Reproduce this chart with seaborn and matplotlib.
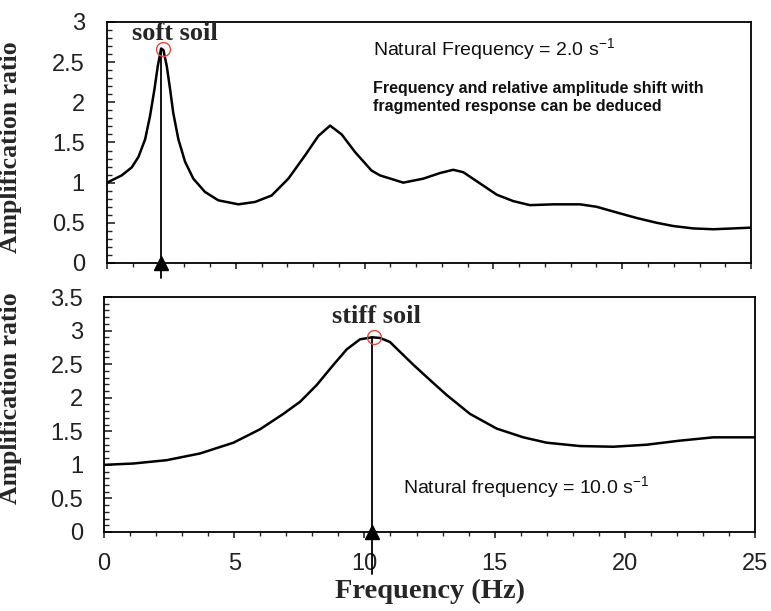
import matplotlib
matplotlib.use("Agg")
import matplotlib.pyplot as plt
from matplotlib.ticker import MultipleLocator
import seaborn as sns
import pandas as pd

# Amplification spectrum of the soft soil profile (Hz, ratio)
soft_freq = [0.0, 0.57, 0.96, 1.22, 1.48, 1.67, 1.84, 1.97, 2.10, 2.19,
             2.32, 2.45, 2.57, 2.77, 3.03, 3.35, 3.80, 4.32, 5.1, 5.75,
             6.39, 7.04, 7.69, 8.2, 8.66, 9.11, 9.63, 10.27, 10.6, 11.5,
             12.28, 12.93, 13.44, 13.83, 14.48, 15.13, 15.77, 16.42, 17.33,
             18.36, 19.0, 19.66, 20.56, 21.34, 21.98, 22.76, 23.54, 24.31,
             25.0]
soft_amp = [1.0, 1.09, 1.19, 1.32, 1.54, 1.83, 2.16, 2.45, 2.67, 2.65,
            2.45, 2.16, 1.87, 1.54, 1.26, 1.05, 0.885, 0.78, 0.73, 0.76,
            0.84, 1.05, 1.34, 1.58, 1.71, 1.60, 1.38, 1.15, 1.09, 1.0,
            1.05, 1.12, 1.16, 1.13, 0.99, 0.85, 0.77, 0.72, 0.73,
            0.73, 0.70, 0.64, 0.56, 0.50, 0.46, 0.43, 0.42, 0.43,
            0.44]

# Amplification spectrum of the stiff soil profile (Hz, ratio)
stiff_freq = [0.0, 1.13, 2.41, 3.69, 4.97, 5.99, 6.89, 7.53, 8.17, 8.81, 9.32,
              9.83, 10.3, 10.6, 10.98, 11.88, 12.5, 13.16, 14.05, 15.08, 16.1,
              17.0, 18.28, 19.56, 20.84, 22.1, 23.4, 25.0]
stiff_amp = [1.0, 1.02, 1.07, 1.17, 1.33, 1.53, 1.76, 1.94, 2.19, 2.49, 2.72,
             2.87, 2.90, 2.89, 2.83, 2.49, 2.27, 2.04, 1.76, 1.54, 1.41,
             1.33, 1.28, 1.27, 1.30, 1.36, 1.41, 1.41]

x_ticks = [0, 5, 10, 15, 20, 25]
soft_y_ticks = [0, 0.5, 1, 1.5, 2, 2.5, 3]
stiff_y_ticks = [0, 0.5, 1, 1.5, 2, 2.5, 3, 3.5]

soft_df = pd.DataFrame({"freq": soft_freq, "amp": soft_amp})
stiff_df = pd.DataFrame({"freq": stiff_freq, "amp": stiff_amp})

sns.set_style("ticks")
plt.rcParams["font.family"] = ["Liberation Sans", "DejaVu Sans"]
plt.rcParams["mathtext.fontset"] = "custom"
plt.rcParams["mathtext.rm"] = "Liberation Sans"
plt.rcParams["mathtext.it"] = "Liberation Sans:italic"
plt.rcParams["mathtext.bf"] = "Liberation Sans:bold"

fig = plt.figure(figsize=(7.71, 6.11), dpi=100)
ax1 = fig.add_axes([0.1388, 0.5696, 0.8353, 0.3944])
ax2 = fig.add_axes([0.1349, 0.1293, 0.8444, 0.3846])

serif = ["Liberation Serif", "DejaVu Serif"]
tick_color = "#222222"


def style_axis(ax, yticks, ymax, ypad, show_xlabels):
    ax.set_xlim(0, 25)
    ax.set_ylim(0, ymax)
    ax.set_xticks(x_ticks)
    ax.set_yticks(yticks)
    ax.set_yticklabels([f"{t:g}" for t in yticks])
    ax.xaxis.set_minor_locator(MultipleLocator(1))
    ax.yaxis.set_minor_locator(MultipleLocator(0.1))
    for side in ["top", "right", "bottom", "left"]:
        ax.spines[side].set_visible(True)
        ax.spines[side].set_color("black")
        ax.spines[side].set_linewidth(1.3)
    ax.tick_params(axis="y", which="major", direction="in", length=5.5,
                   width=1.2, pad=ypad, labelsize=17, labelcolor=tick_color,
                   left=True, right=False)
    ax.tick_params(axis="y", which="minor", direction="in", length=3.5,
                   width=1.0, left=True, right=False)
    ax.tick_params(axis="x", which="major", direction="out", length=4,
                   width=1.2, pad=11, labelsize=17, labelcolor=tick_color,
                   bottom=True, top=False, labelbottom=show_xlabels)
    ax.tick_params(axis="x", which="minor", direction="out", length=3,
                   width=1.0, bottom=True, top=False)
    ax.grid(False)


def mark_peak(ax, df, y_low):
    peak = df.loc[df["amp"].idxmax()]
    f, a = peak["freq"], peak["amp"]
    ax.plot([f, f], [y_low, a], color="black", lw=1.3, clip_on=False,
            zorder=3)
    ax.plot([f], [0], marker="^", color="black", markersize=10,
            clip_on=False, zorder=4)
    ax.plot([f + 0.07], [a], marker="o", markersize=10, markerfacecolor="none",
            markeredgecolor="#e8473f", markeredgewidth=1.0, clip_on=False,
            zorder=5)


# Upper panel: soft soil
sns.lineplot(data=soft_df, x="freq", y="amp", ax=ax1, color="black",
             linewidth=1.8, sort=True)
style_axis(ax1, soft_y_ticks, 3, 16, False)
mark_peak(ax1, soft_df, -0.19)
ax1.set_xlabel("")
ax1.set_ylabel("Amplification ratio", family=serif, weight="bold",
               fontsize=18.5)
ax1.yaxis.set_label_coords(-0.132, 0.48)
ax1.text(2.62, 2.78, "soft soil", family=serif, weight="bold", fontsize=19,
         ha="center", va="baseline")
ax1.text(10.33, 2.59, r"Natural Frequency = 2.0 s$^{-1}$", fontsize=14,
         ha="left", va="baseline", color="#111111")
ax1.text(10.33, 2.12, "Frequency and relative amplitude shift with",
         fontsize=11.5, weight="bold", ha="left", va="baseline",
         color="#111111")
ax1.text(10.33, 1.89, "fragmented response can be deduced",
         fontsize=11.5, weight="bold", ha="left", va="baseline",
         color="#111111")

# Lower panel: stiff soil
sns.lineplot(data=stiff_df, x="freq", y="amp", ax=ax2, color="black",
             linewidth=1.8, sort=True)
style_axis(ax2, stiff_y_ticks, 3.5, 15, True)
mark_peak(ax2, stiff_df, -0.62)
ax2.set_xlabel("Frequency (Hz)", family=serif, weight="bold", fontsize=20.5,
               labelpad=3)
ax2.set_ylabel("Amplification ratio", family=serif, weight="bold",
               fontsize=18.5)
ax2.yaxis.set_label_coords(-0.126, 0.568)
ax2.text(10.45, 3.11, "stiff soil", family=serif, weight="bold", fontsize=19,
         ha="center", va="baseline")
ax2.text(11.48, 0.585, r"Natural frequency = 10.0 s$^{-1}$", fontsize=14,
         ha="left", va="baseline", color="#111111")

fig.savefig("out.png", dpi=100)
